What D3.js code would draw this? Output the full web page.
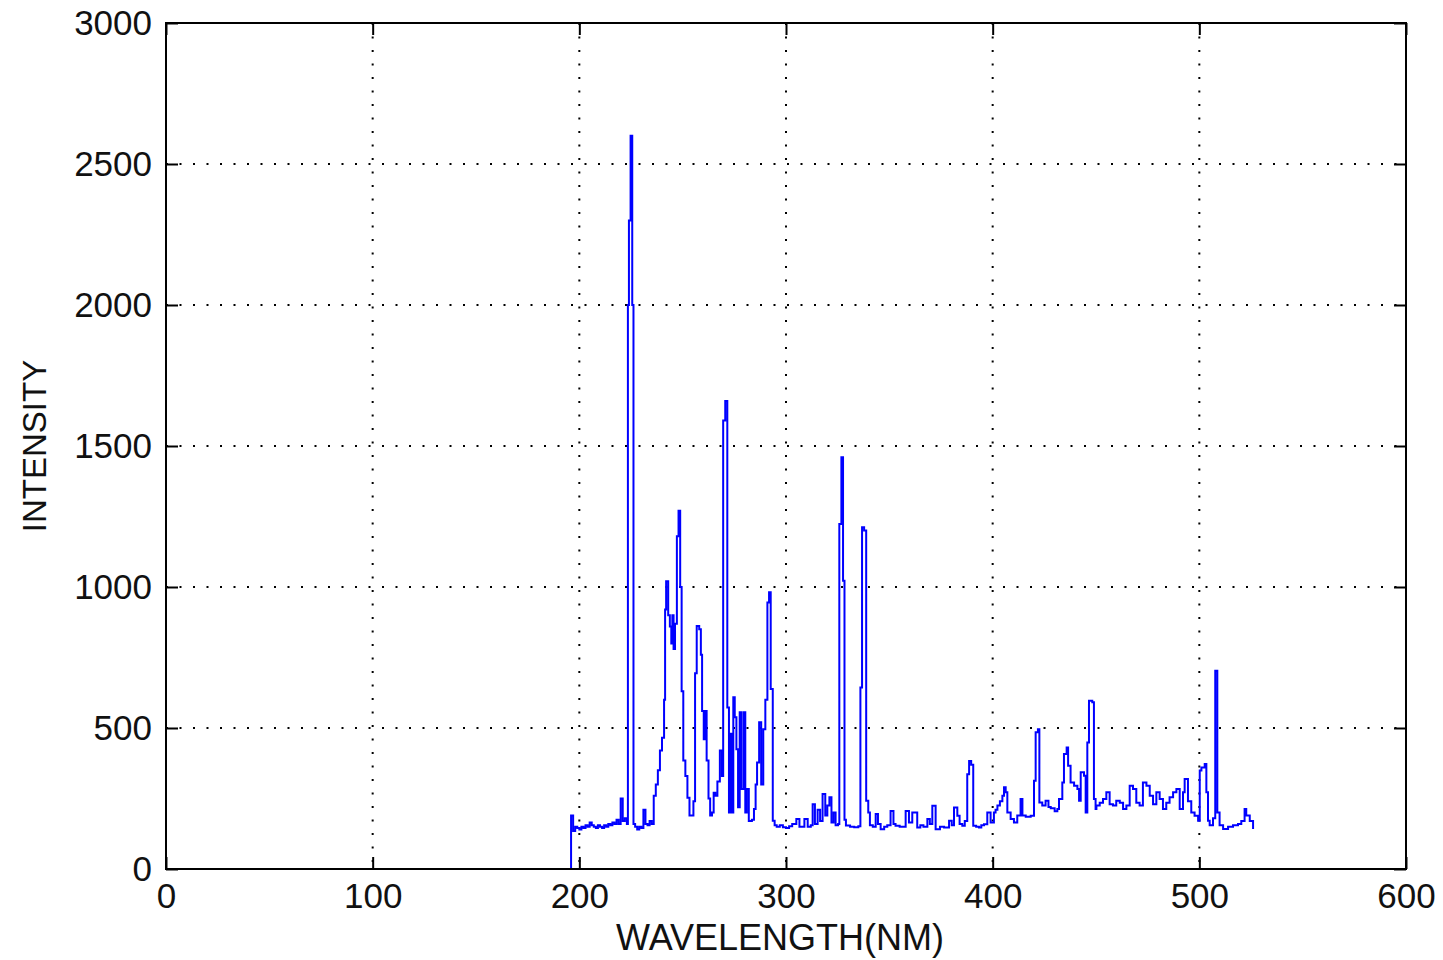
<!DOCTYPE html>
<html>
<head>
<meta charset="utf-8">
<script src="https://cdn.jsdelivr.net/npm/d3@7"></script>
<style>
  html, body { margin: 0; padding: 0; background: #fff; }
  svg text { font-family: "Liberation Sans", Arial, sans-serif; fill: #111; }
</style>
</head>
<body>
<svg id="chart" width="1443" height="960"></svg>
<script>
// Emission spectrum: wavelength (nm) and measured intensity
const wavelength = [
  195.5, 196, 197, 198, 199, 200, 201, 202, 203, 204, 205, 206, 207, 208, 209, 210,
  211, 212, 213, 214, 215, 216, 217, 218, 219, 220, 221, 222, 223, 223.5, 224, 224.8,
  225.6, 226.2, 227, 228, 229, 230, 231, 232, 233, 234, 235, 236, 237, 238, 239, 240,
  241, 241.5, 242, 243, 243.8, 244.5, 245, 245.6, 246.3, 247.2, 248, 248.8, 249.5, 250.3,
  251.3, 252.3, 253.3, 254.3, 255.2, 256, 256.8, 258, 258.8, 259.4, 260.2, 261, 261.6, 262.5,
  263.3, 264.2, 265, 265.8, 266.8, 268, 269, 269.6, 270.6, 271.6, 272.4, 273, 273.8, 274.5,
  275.2, 276, 276.8, 277.6, 278.4, 279.5, 280.3, 281, 282, 283.5, 284.5, 285.3, 286, 287,
  288, 289, 290, 291, 291.8, 292.6, 293.6, 294.5, 295.5, 297, 298.5, 300, 301.5, 303,
  305, 306.5, 308.9, 310.5, 312, 312.9, 314, 315.3, 316.5, 317.7, 319, 320, 321, 322,
  323, 324, 325.2, 325.8, 326.8, 327.6, 328.3, 329, 331, 333, 335, 336, 336.8, 337.8,
  338.8, 339.8, 340.6, 342, 343.4, 344.5, 345.8, 347.5, 349, 350.6, 352, 353, 355, 357.9,
  359.5, 361.1, 363.5, 365, 366.5, 368.4, 369.6, 370.8, 372.4, 374.5, 376.5, 378.9, 380.2, 381.3,
  382.9, 384, 385.3, 386.5, 387.7, 388.6, 389.6, 390.6, 392, 393.4, 394.5, 395.8, 397.4, 399,
  400.6, 401.4, 402.3, 403.5, 404.7, 405.5, 406.3, 407.1, 408.7, 410.3, 411.9, 413.5, 414.4, 416,
  418.4, 420, 420.8, 421.9, 422.6, 424, 425.6, 427, 428.1, 430, 431.3, 432.1, 433.7, 434.5,
  435.8, 436.5, 437.7, 439.4, 441, 441.8, 442.6, 444.2, 445, 445.8, 446.6, 448.2, 449, 449.8,
  450.2, 451.8, 453.4, 455, 456.6, 458.2, 459.8, 461.5, 463.1, 464.7, 466.3, 467.9, 469.5, 471.1,
  472.7, 474.4, 476, 477.6, 479.2, 480.8, 482.4, 484, 485.6, 487.3, 488.9, 490.5, 492.1, 492.9,
  494.5, 496.1, 497.7, 499.4, 500.2, 501, 502.6, 503.4, 504.2, 505, 506.6, 507.7, 508.7, 509.8,
  511.5, 513.9, 516.3, 518.7, 520.3, 521.9, 522.7, 524.4, 526
];
const intensity = [
  0, 190, 135, 150, 145, 140, 150, 145, 155, 150, 165, 155, 150, 145, 155, 150,
  145, 155, 150, 160, 155, 165, 160, 175, 160, 250, 170, 180, 160, 2000, 2300, 2600,
  2000, 160, 150, 140, 150, 145, 210, 160, 155, 170, 160, 260, 300, 350, 420, 465,
  600, 920, 1020, 900, 860, 800, 900, 780, 870, 1180, 1270, 1000, 630, 385,
  330, 253, 190, 190, 240, 694, 862, 850, 760, 560, 460, 560, 385, 250,
  190, 200, 270, 260, 310, 420, 330, 1590, 1660, 573, 200, 480, 200, 609,
  538, 425, 219, 556, 284, 556, 200, 284, 170, 175, 213, 300, 378, 520,
  300, 496, 600, 945, 981, 638, 171, 155, 150, 155, 148, 145, 152, 160,
  177, 150, 177, 150, 155, 230, 160, 210, 170, 266, 190, 225, 254, 165,
  200, 155, 160, 1223, 1460, 1022, 175, 154, 150, 148, 152, 644, 1212, 1200,
  242, 200, 155, 150, 195, 160, 141, 150, 155, 206, 160, 153, 150, 206,
  165, 200, 147, 155, 150, 177, 160, 224, 141, 150, 147, 171, 155, 218,
  189, 160, 153, 170, 336, 383, 370, 153, 150, 147, 155, 159, 200, 165,
  200, 210, 225, 240, 260, 290, 272, 200, 177, 165, 190, 248, 190, 185,
  189, 313, 485, 496, 236, 225, 242, 220, 215, 205, 213, 248, 307, 408,
  431, 366, 307, 295, 284, 242, 343, 331, 200, 449, 597, 591, 248, 213,
  225, 235, 248, 272, 230, 225, 242, 235, 213, 225, 295, 284, 235, 225,
  307, 295, 260, 230, 272, 248, 213, 235, 254, 272, 284, 213, 272, 319,
  240, 200, 189, 171, 349, 360, 372, 272, 171, 155, 180, 703, 200, 155,
  142, 150, 155, 160, 170, 213, 190, 170, 142
];

const xTicks = [0, 100, 200, 300, 400, 500, 600];
const yTicks = [0, 500, 1000, 1500, 2000, 2500, 3000];

const spectrum = wavelength.map((w, i) => ({ w, v: intensity[i] }));

const svg = d3.select("#chart");
const box = { left: 166, right: 1406, top: 23, bottom: 869 };

const x = d3.scaleLinear().domain([0, 600]).range([box.left, box.right]);
const y = d3.scaleLinear().domain([0, 3000]).range([box.bottom, box.top]);

// dotted grid
const grid = svg.append("g")
  .attr("stroke", "#000")
  .attr("stroke-width", 2)
  .attr("stroke-dasharray", "2,11.5");
grid.selectAll("line.gx").data(xTicks.slice(1, -1)).join("line")
  .attr("x1", d => x(d)).attr("x2", d => x(d))
  .attr("y1", box.top).attr("y2", box.bottom);
grid.selectAll("line.gy").data(yTicks.slice(1, -1)).join("line")
  .attr("y1", d => y(d)).attr("y2", d => y(d))
  .attr("x1", box.left).attr("x2", box.right);

// spectrum trace
const line = d3.line()
  .x(d => x(d.w))
  .y(d => y(d.v))
  .curve(d3.curveStepAfter);

svg.append("path")
  .datum(spectrum)
  .attr("fill", "none")
  .attr("stroke", "#0000ff")
  .attr("stroke-width", 2)
  .attr("d", line);

// axes with inward ticks on all four sides
const tick = 12;
svg.append("g").attr("transform", `translate(0,${box.bottom})`)
  .call(d3.axisBottom(x).tickValues(xTicks).tickSize(-tick).tickPadding(14).tickFormat(d3.format("d")));
svg.append("g").attr("transform", `translate(0,${box.top})`)
  .call(d3.axisTop(x).tickValues(xTicks).tickSize(-tick).tickFormat(""));
svg.append("g").attr("transform", `translate(${box.left},0)`)
  .call(d3.axisLeft(y).tickValues(yTicks).tickSize(-tick).tickPadding(14).tickFormat(d3.format("d")));
svg.append("g").attr("transform", `translate(${box.right},0)`)
  .call(d3.axisRight(y).tickValues(yTicks).tickSize(-tick).tickFormat(""));

svg.selectAll(".domain").remove();
svg.selectAll(".tick line").attr("stroke", "#000").attr("stroke-width", 2);
svg.selectAll(".tick text")
  .attr("font-size", 35)
  .attr("font-family", "Liberation Sans, Arial, sans-serif")
  .attr("fill", "#111");

// frame
svg.append("rect")
  .attr("x", box.left).attr("y", box.top)
  .attr("width", box.right - box.left).attr("height", box.bottom - box.top)
  .attr("fill", "none").attr("stroke", "#000").attr("stroke-width", 2);

// axis titles
svg.append("text")
  .attr("x", (box.left + box.right) / 2 - 6)
  .attr("y", 950)
  .attr("text-anchor", "middle")
  .attr("font-size", 36)
  .text("WAVELENGTH(NM)");

svg.append("text")
  .attr("transform", `translate(46,${(box.top + box.bottom) / 2}) rotate(-90)`)
  .attr("text-anchor", "middle")
  .attr("font-size", 33)
  .text("INTENSITY");
</script>
</body>
</html>
